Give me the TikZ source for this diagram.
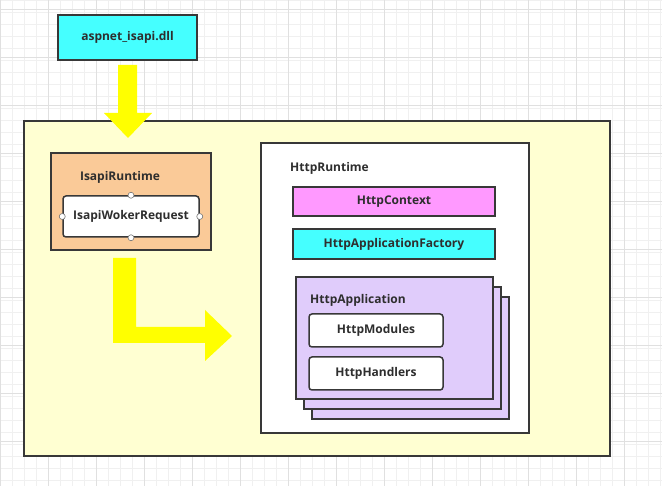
\documentclass[tikz,border=0pt]{standalone}
\usepackage{fontspec}
\setmainfont{Open Sans}
\definecolor{bordc}{HTML}{383838}
\definecolor{txtc}{HTML}{2E2E2E}
\definecolor{cyanfill}{HTML}{45FFFF}
\definecolor{pinkfill}{HTML}{FF99FF}
\definecolor{peachfill}{HTML}{FACA98}
\definecolor{lavfill}{HTML}{E0CCFB}
\definecolor{contfill}{HTML}{FFFFD2}
\definecolor{arrowyel}{HTML}{FFFF00}
\definecolor{gridminor}{HTML}{F0F0F0}
\definecolor{gridmajor}{HTML}{E0E0E0}
\begin{document}
\begin{tikzpicture}[x=1pt,y=-1pt,
  every node/.style={font=\fontsize{12}{14}\selectfont\bfseries, text=txtc, inner sep=0pt},
  box/.style={draw=bordc, line width=1.5pt, rectangle, anchor=center},
  rbox/.style={box, fill=white, rounded corners=3pt},
  lbl/.style={anchor=west},
  port/.style={circle, draw=bordc!70, fill=white, line width=0.6pt, minimum size=6pt},
  blockarrow/.style={fill=arrowyel, draw=none}]
\useasboundingbox (0,0) rectangle (662,486);
% background grid
\fill[white] (0,0) rectangle (662,486);
\foreach \i in {0,12,...,660} {\draw[gridminor, line width=0.5pt] (\i,0) -- (\i,486);}
\foreach \i in {0,12,...,486} {\draw[gridminor, line width=0.5pt] (0,\i) -- (662,\i);}
\foreach \i in {0,48,...,660} {\draw[gridmajor, line width=0.6pt] (\i,0) -- (\i,486);}
\foreach \i in {9,57,...,486} {\draw[gridmajor, line width=0.6pt] (0,\i) -- (662,\i);}
% top dll box
\node[box, fill=cyanfill, minimum width=139pt, minimum height=45pt] (dll) at (127.5,37.5) {aspnet\_isapi.dll};
% container
\node[box, fill=contfill, line width=2pt, minimum width=586pt, minimum height=335pt] (cont) at (317,288.5) {};
% down arrow
\fill[blockarrow] (118,65) -- (137,65) -- (137,113) -- (152,113) -- (128,138) -- (104,113) -- (118,113) -- cycle;
% IsapiRuntime
\node[box, fill=peachfill, minimum width=160pt, minimum height=97pt] (isapi) at (131,201.5) {};
\node (isapilbl) at (120,177) {IsapiRuntime};
\node[rbox, minimum width=136pt, minimum height=41pt] (worker) at (131,216.5) {IsapiWokerRequest};
\node[port] (pn) at (worker.north) {};
\node[port] (ps) at (worker.south) {};
\node[port] (pw) at (worker.west) {};
\node[port] (pe) at (worker.east) {};
% L arrow
\fill[blockarrow] (113,258) -- (136,258) -- (136,327) -- (205,327) -- (205,310) -- (232,336) -- (205,361) -- (205,343) -- (113,343) -- cycle;
% HttpRuntime
\node[box, fill=white, minimum width=268pt, minimum height=290pt] (hr) at (395,288) {};
\node[lbl] (hrlbl) at (290,168) {HttpRuntime};
\node[box, fill=pinkfill, minimum width=202pt, minimum height=29pt] (ctx) at (394,201.5) {HttpContext};
\node[box, fill=cyanfill, minimum width=202pt, minimum height=30pt] (fac) at (394,244) {HttpApplicationFactory};
% HttpApplication stack
\node[box, fill=lavfill, minimum width=197pt, minimum height=122pt] (app3) at (410.5,358) {};
\node[box, fill=lavfill, minimum width=197pt, minimum height=122pt] (app2) at (402.5,348) {};
\node[box, fill=lavfill, minimum width=197pt, minimum height=122pt] (app1) at (394.5,338) {};
\node[lbl] (applbl) at (310,300.5) {HttpApplication};
\node[rbox, minimum width=134pt, minimum height=33pt] (mods) at (376,330.5) {HttpModules};
\node[rbox, minimum width=134pt, minimum height=33pt] (hand) at (376,373.5) {HttpHandlers};
\end{tikzpicture}
\end{document}
